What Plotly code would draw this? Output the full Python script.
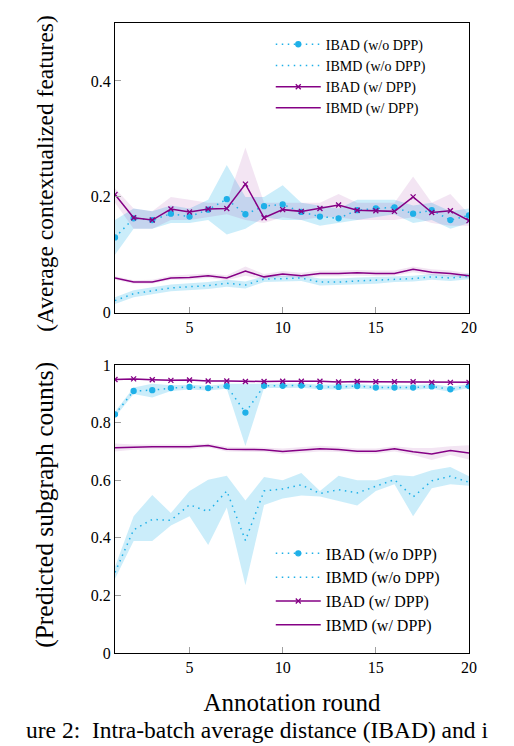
import plotly.graph_objects as go
from plotly.subplots import make_subplots

# data
rounds = list(range(1, 21))

# top panel: average contextualized features
top_ibad_wo = [0.130, 0.163, 0.160, 0.171, 0.166, 0.178, 0.196, 0.170, 0.184, 0.187,
               0.174, 0.166, 0.163, 0.177, 0.180, 0.182, 0.171, 0.177, 0.160, 0.168]
top_ibad_wo_hi = [0.160, 0.180, 0.175, 0.185, 0.180, 0.195, 0.255, 0.200, 0.200, 0.220,
                  0.190, 0.185, 0.180, 0.195, 0.195, 0.195, 0.185, 0.190, 0.175, 0.180]
top_ibad_wo_lo = [0.100, 0.145, 0.145, 0.155, 0.155, 0.160, 0.135, 0.145, 0.165, 0.160,
                  0.160, 0.150, 0.155, 0.160, 0.165, 0.170, 0.155, 0.160, 0.145, 0.155]
top_ibmd_wo = [0.021, 0.033, 0.038, 0.043, 0.045, 0.047, 0.051, 0.048, 0.058, 0.059,
               0.060, 0.053, 0.053, 0.055, 0.056, 0.058, 0.059, 0.062, 0.060, 0.063]
top_ibmd_wo_hi = [0.027, 0.039, 0.044, 0.049, 0.051, 0.053, 0.057, 0.054, 0.063, 0.064,
                  0.065, 0.059, 0.059, 0.061, 0.062, 0.063, 0.064, 0.067, 0.065, 0.068]
top_ibmd_wo_lo = [0.015, 0.027, 0.032, 0.037, 0.039, 0.041, 0.045, 0.042, 0.053, 0.054,
                  0.055, 0.047, 0.047, 0.049, 0.050, 0.053, 0.054, 0.057, 0.055, 0.058]
top_ibad_w = [0.204, 0.164, 0.160, 0.179, 0.174, 0.179, 0.180, 0.222, 0.164, 0.178,
              0.175, 0.180, 0.186, 0.177, 0.176, 0.175, 0.200, 0.173, 0.176, 0.159]
top_ibad_w_hi = [0.215, 0.180, 0.175, 0.200, 0.195, 0.190, 0.190, 0.285, 0.190, 0.190,
                 0.190, 0.190, 0.205, 0.190, 0.190, 0.190, 0.235, 0.190, 0.205, 0.170]
top_ibad_w_lo = [0.190, 0.145, 0.145, 0.160, 0.160, 0.165, 0.170, 0.160, 0.155, 0.165,
                 0.160, 0.165, 0.165, 0.160, 0.160, 0.160, 0.165, 0.155, 0.150, 0.150]
top_ibmd_w = [0.060, 0.053, 0.053, 0.060, 0.061, 0.064, 0.060, 0.072, 0.062, 0.067,
              0.064, 0.068, 0.068, 0.069, 0.068, 0.068, 0.075, 0.070, 0.068, 0.064]
top_ibmd_w_hi = [0.063, 0.056, 0.057, 0.064, 0.066, 0.068, 0.065, 0.080, 0.067, 0.072,
                 0.069, 0.073, 0.073, 0.074, 0.073, 0.073, 0.080, 0.075, 0.073, 0.068]
top_ibmd_w_lo = [0.057, 0.050, 0.050, 0.057, 0.057, 0.060, 0.056, 0.064, 0.058, 0.062,
                 0.060, 0.063, 0.063, 0.064, 0.063, 0.064, 0.070, 0.065, 0.063, 0.060]

# bottom panel: predicted subgraph counts
bot_ibad_wo = [0.829, 0.910, 0.913, 0.920, 0.924, 0.920, 0.927, 0.835, 0.928, 0.928,
               0.929, 0.924, 0.924, 0.927, 0.922, 0.922, 0.922, 0.926, 0.916, 0.927]
bot_ibad_wo_hi = [0.838, 0.922, 0.935, 0.930, 0.932, 0.928, 0.935, 0.935, 0.935, 0.935,
                  0.936, 0.932, 0.932, 0.934, 0.930, 0.930, 0.930, 0.934, 0.925, 0.934]
bot_ibad_wo_lo = [0.820, 0.900, 0.887, 0.910, 0.915, 0.912, 0.918, 0.719, 0.920, 0.920,
                  0.921, 0.916, 0.915, 0.919, 0.914, 0.914, 0.914, 0.918, 0.907, 0.920]
bot_ibmd_wo = [0.280, 0.428, 0.464, 0.461, 0.515, 0.491, 0.563, 0.391, 0.563, 0.570,
               0.584, 0.554, 0.567, 0.556, 0.579, 0.602, 0.542, 0.598, 0.614, 0.593]
bot_ibmd_wo_hi = [0.300, 0.475, 0.549, 0.486, 0.563, 0.602, 0.616, 0.530, 0.611, 0.600,
                  0.625, 0.563, 0.616, 0.600, 0.600, 0.618, 0.614, 0.635, 0.646, 0.614]
bot_ibmd_wo_lo = [0.258, 0.389, 0.389, 0.443, 0.475, 0.375, 0.505, 0.235, 0.514, 0.537,
                  0.547, 0.544, 0.528, 0.512, 0.563, 0.586, 0.475, 0.572, 0.586, 0.581]
bot_ibad_w = [0.950, 0.952, 0.949, 0.947, 0.948, 0.945, 0.945, 0.943, 0.943, 0.944,
              0.944, 0.944, 0.941, 0.943, 0.942, 0.942, 0.942, 0.940, 0.940, 0.940]
bot_ibad_w_hi = [0.953, 0.955, 0.952, 0.950, 0.951, 0.948, 0.948, 0.946, 0.946, 0.947,
                 0.947, 0.947, 0.944, 0.946, 0.945, 0.945, 0.945, 0.943, 0.943, 0.943]
bot_ibad_w_lo = [0.947, 0.949, 0.946, 0.944, 0.945, 0.942, 0.942, 0.940, 0.940, 0.941,
                 0.941, 0.941, 0.938, 0.940, 0.939, 0.939, 0.939, 0.937, 0.937, 0.937]
bot_ibmd_w = [0.713, 0.715, 0.716, 0.716, 0.716, 0.721, 0.708, 0.707, 0.706, 0.700,
              0.705, 0.709, 0.707, 0.701, 0.701, 0.709, 0.699, 0.691, 0.703, 0.695]
bot_ibmd_w_hi = [0.728, 0.724, 0.724, 0.724, 0.724, 0.728, 0.716, 0.715, 0.714, 0.710,
                 0.714, 0.720, 0.716, 0.710, 0.710, 0.718, 0.712, 0.712, 0.718, 0.722]
bot_ibmd_w_lo = [0.700, 0.706, 0.708, 0.708, 0.708, 0.714, 0.700, 0.699, 0.698, 0.690,
                 0.696, 0.700, 0.698, 0.692, 0.692, 0.700, 0.688, 0.670, 0.688, 0.672]

labels = ["IBAD (w/o DPP)", "IBMD (w/o DPP)", "IBAD (w/ DPP)", "IBMD (w/ DPP)"]

CYAN = "#1fb0e8"
PURPLE = "#850085"
CYAN_FILL = "rgba(31,176,232,0.23)"
PURPLE_FILL = "rgba(133,0,133,0.10)"
FONT = "Liberation Serif"
DOTS = "1.5px,4.5px"

fig = make_subplots(rows=2, cols=1)


def band(row, lo, hi, fill):
    fig.add_trace(go.Scatter(
        x=rounds + rounds[::-1], y=hi + lo[::-1], fill="toself",
        fillcolor=fill, line=dict(width=0), mode="lines",
        showlegend=False, hoverinfo="skip"), row=row, col=1)


def add_panel(row, series, legend):
    # series: list of (mean, lo, hi)
    styles = [
        dict(color=CYAN, fill=CYAN_FILL, dash=DOTS, marker="circle"),
        dict(color=CYAN, fill=CYAN_FILL, dash=DOTS, marker=None),
        dict(color=PURPLE, fill=PURPLE_FILL, dash="solid", marker="x-thin"),
        dict(color=PURPLE, fill=PURPLE_FILL, dash="solid", marker=None),
    ]
    for (mean, lo, hi), st in zip(series, styles):
        band(row, lo, hi, st["fill"])
    for (mean, lo, hi), st, name in zip(series, styles, labels):
        if st["marker"]:
            mode = "lines+markers"
            mk = dict(symbol=st["marker"], size=5, color=st["color"],
                      line=dict(color=st["color"], width=1.3))
        else:
            mode = "lines"
            mk = None
        fig.add_trace(go.Scatter(
            x=rounds, y=mean, mode=mode, name=name, marker=mk,
            line=dict(color=st["color"], width=1.5, dash=st["dash"]),
            legend=legend), row=row, col=1)


add_panel(1, [(top_ibad_wo, top_ibad_wo_lo, top_ibad_wo_hi),
              (top_ibmd_wo, top_ibmd_wo_lo, top_ibmd_wo_hi),
              (top_ibad_w, top_ibad_w_lo, top_ibad_w_hi),
              (top_ibmd_w, top_ibmd_w_lo, top_ibmd_w_hi)], "legend")
add_panel(2, [(bot_ibad_wo, bot_ibad_wo_lo, bot_ibad_wo_hi),
              (bot_ibmd_wo, bot_ibmd_wo_lo, bot_ibmd_wo_hi),
              (bot_ibad_w, bot_ibad_w_lo, bot_ibad_w_hi),
              (bot_ibmd_w, bot_ibmd_w_lo, bot_ibmd_w_hi)], "legend2")

axis_style = dict(showline=True, linecolor="black", linewidth=1.2, mirror=True,
                  ticks="inside", ticklen=6, tickcolor="#a0a0a0", tickwidth=1,
                  showgrid=False, zeroline=False,
                  tickfont=dict(family=FONT, size=16, color="black"))

for r in (1, 2):
    fig.update_xaxes(range=[1, 20], tickvals=[5, 10, 15, 20], row=r, col=1, **axis_style)

fig.update_yaxes(range=[0, 0.5], tickvals=[0, 0.2, 0.4], ticktext=["0", "0.2", "0.4"],
                 domain=[0.54, 1.0], row=1, col=1, **axis_style)
fig.update_yaxes(range=[0, 1], tickvals=[0, 0.2, 0.4, 0.6, 0.8, 1],
                 ticktext=["0", "0.2", "0.4", "0.6", "0.8", "1"],
                 domain=[0.0, 0.457], row=2, col=1, **axis_style)

fig.update_xaxes(title=dict(text="Annotation round", standoff=18,
                            font=dict(family=FONT, size=25, color="black")), row=2, col=1)

legend_style = dict(bgcolor="rgba(255,255,255,0)", borderwidth=0,
                    xanchor="left", yanchor="top", itemwidth=45,
                    tracegroupgap=0)

# the page adds an 8px body margin, so the figure is kept 8px smaller
fig.update_layout(
    width=506, height=738,
    margin=dict(l=107, r=45, t=15, b=93, autoexpand=False),
    plot_bgcolor="white", paper_bgcolor="white",
    font=dict(family=FONT, color="black"),
    legend=dict(x=0.44, y=0.991, font=dict(family=FONT, size=14, color="black"),
                **legend_style),
    legend2=dict(x=0.44, y=0.185, font=dict(family=FONT, size=16, color="black"),
                 **legend_style),
)

# y-axis titles as rotated annotations, so they can sit where the reference has them
fig.add_annotation(text="(Average contextualized features)", textangle=-90,
                   xref="paper", yref="paper", x=-0.198, y=0.762,
                   xanchor="center", yanchor="middle", showarrow=False,
                   font=dict(family=FONT, size=23.5, color="black"))
fig.add_annotation(text="(Predicted subgraph counts)", textangle=-90,
                   xref="paper", yref="paper", x=-0.198, y=0.235,
                   xanchor="center", yanchor="middle", showarrow=False,
                   font=dict(family=FONT, size=25.5, color="black"))

# the figure caption under the chart
fig.add_annotation(text="ure 2:  Intra-batch average distance (IBAD) and i",
                   xref="paper", yref="paper", x=0.40, y=-0.123,
                   xanchor="center", yanchor="middle", showarrow=False,
                   font=dict(family=FONT, size=23.5, color="black"))

fig.write_html("out.html")
